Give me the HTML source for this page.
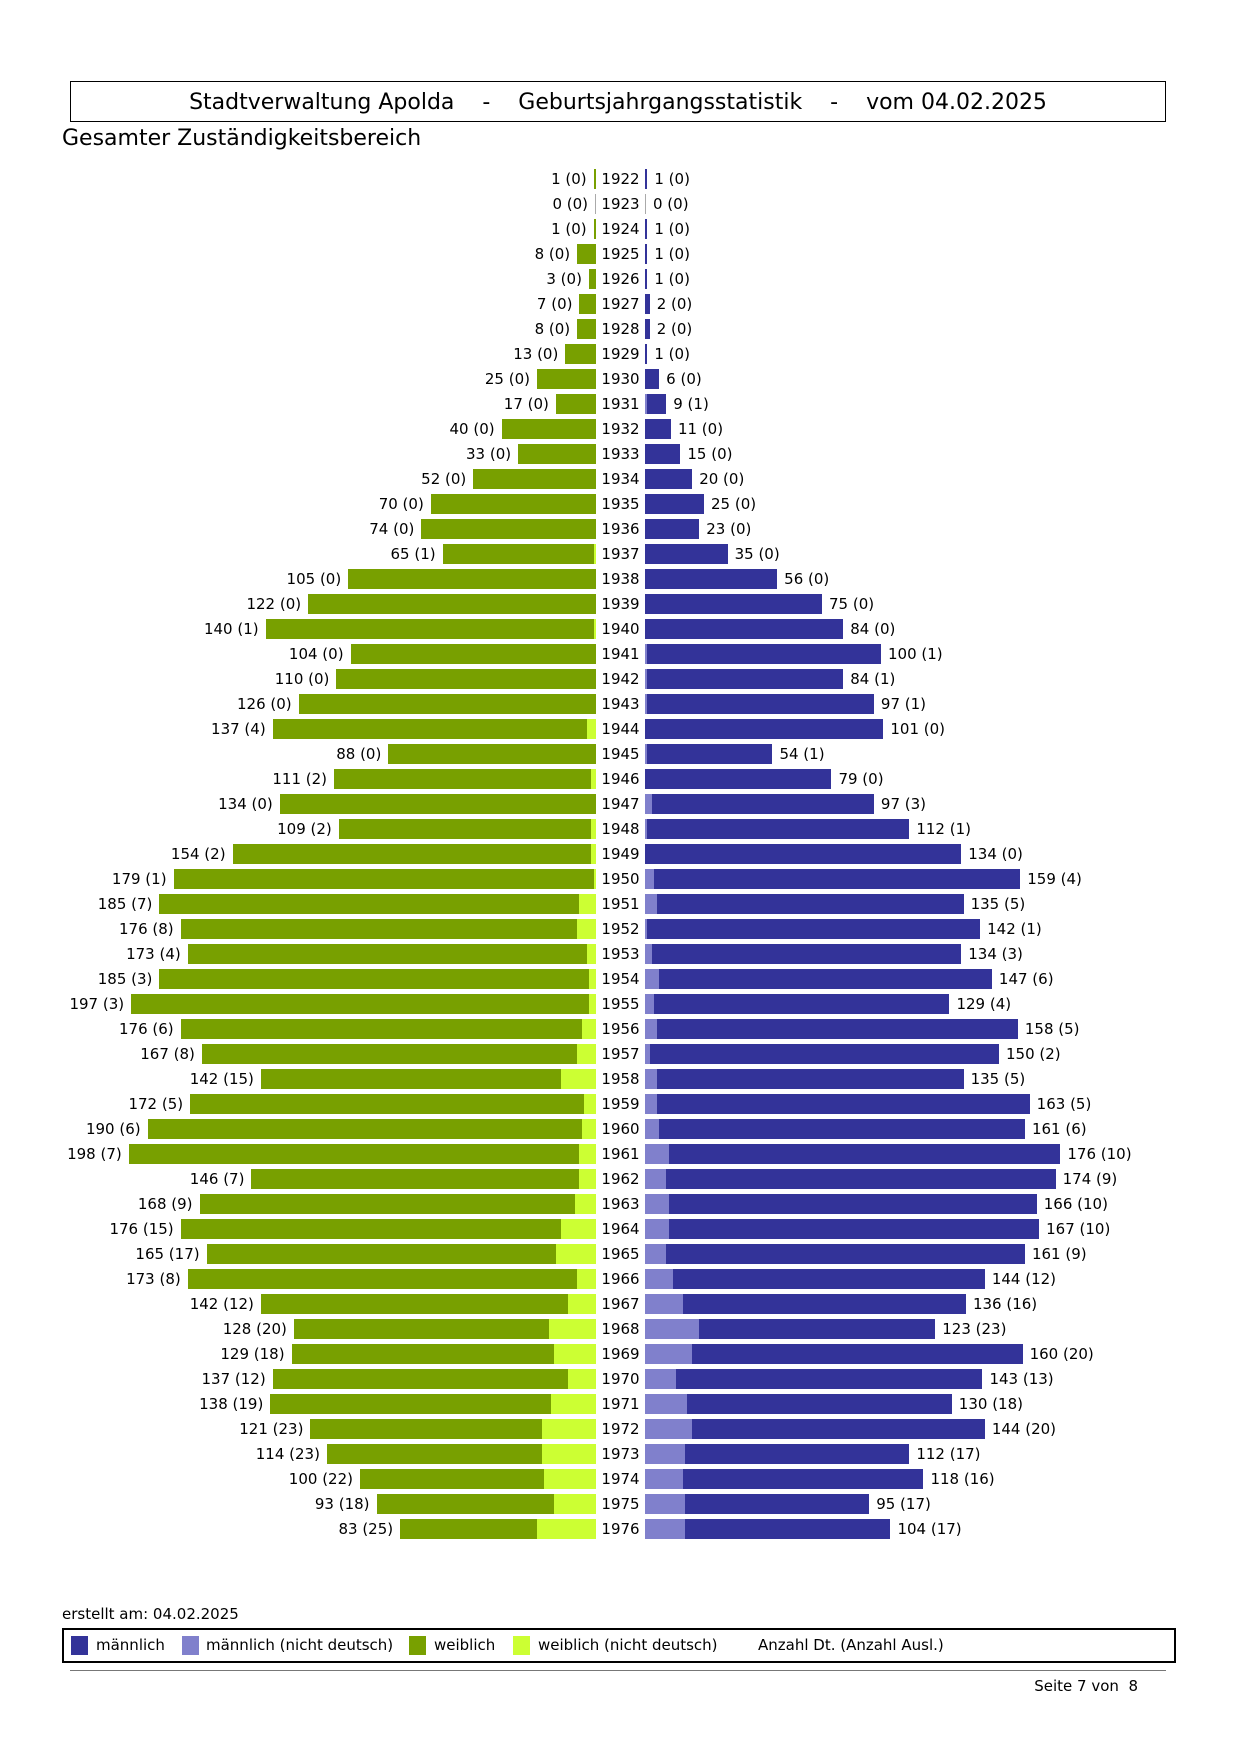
<!DOCTYPE html>
<html><head><meta charset="utf-8"><style>
body{margin:0;width:1239px;height:1754px;background:#fff;position:relative;font-family:"DejaVu Sans","Liberation Sans",sans-serif;color:#000;overflow:hidden}
.hdr{position:absolute;left:70px;top:81px;width:1094px;height:39px;border:1px solid #000;font-size:22px;line-height:42px;text-align:center;white-space:pre}
.sub{position:absolute;left:62px;top:124px;font-size:22px;line-height:30px}
#rows{position:absolute;left:0;top:166px;width:1239px}
.row{height:25px;display:flex;align-items:center;font-size:15px}
.l{width:596px;display:flex;justify-content:flex-end;align-items:center}
.l span{margin-right:7px}
.y{width:49px;text-align:center}
.r{display:flex;align-items:center}
.r span{margin-left:7px}
.fb{height:20px;background:#78a000;position:relative}
.fb i{position:absolute;right:0;top:0;bottom:0;background:#ccff33}
.mb{height:20px;background:#333399;position:relative}
.mb i{position:absolute;left:0;top:0;bottom:0;background:#8080cc}
.z{border-left:1px solid #aaa;height:20px}
.leg{position:absolute;left:62px;top:1628px;width:1110px;height:31px;border:2px solid #000;font-size:15px}
.leg div{position:absolute;top:6px;line-height:19px}
.sw{width:17px;height:19px}
</style></head><body>
<div class="hdr">Stadtverwaltung Apolda    -    Geburtsjahrgangsstatistik    -    vom 04.02.2025</div>
<div class="sub">Gesamter Zuständigkeitsbereich</div>
<div id="rows">
<div class="row"><div class="l"><span>1 (0)</span><div class="fb" style="width:calc(2.36px*1)"></div></div><div class="y">1922</div><div class="r"><div class="mb" style="width:calc(2.36px*1)"></div><span>1 (0)</span></div></div>
<div class="row"><div class="l"><span>0 (0)</span><div class="z"></div></div><div class="y">1923</div><div class="r"><div class="z"></div><span>0 (0)</span></div></div>
<div class="row"><div class="l"><span>1 (0)</span><div class="fb" style="width:calc(2.36px*1)"></div></div><div class="y">1924</div><div class="r"><div class="mb" style="width:calc(2.36px*1)"></div><span>1 (0)</span></div></div>
<div class="row"><div class="l"><span>8 (0)</span><div class="fb" style="width:calc(2.36px*8)"></div></div><div class="y">1925</div><div class="r"><div class="mb" style="width:calc(2.36px*1)"></div><span>1 (0)</span></div></div>
<div class="row"><div class="l"><span>3 (0)</span><div class="fb" style="width:calc(2.36px*3)"></div></div><div class="y">1926</div><div class="r"><div class="mb" style="width:calc(2.36px*1)"></div><span>1 (0)</span></div></div>
<div class="row"><div class="l"><span>7 (0)</span><div class="fb" style="width:calc(2.36px*7)"></div></div><div class="y">1927</div><div class="r"><div class="mb" style="width:calc(2.36px*2)"></div><span>2 (0)</span></div></div>
<div class="row"><div class="l"><span>8 (0)</span><div class="fb" style="width:calc(2.36px*8)"></div></div><div class="y">1928</div><div class="r"><div class="mb" style="width:calc(2.36px*2)"></div><span>2 (0)</span></div></div>
<div class="row"><div class="l"><span>13 (0)</span><div class="fb" style="width:calc(2.36px*13)"></div></div><div class="y">1929</div><div class="r"><div class="mb" style="width:calc(2.36px*1)"></div><span>1 (0)</span></div></div>
<div class="row"><div class="l"><span>25 (0)</span><div class="fb" style="width:calc(2.36px*25)"></div></div><div class="y">1930</div><div class="r"><div class="mb" style="width:calc(2.36px*6)"></div><span>6 (0)</span></div></div>
<div class="row"><div class="l"><span>17 (0)</span><div class="fb" style="width:calc(2.36px*17)"></div></div><div class="y">1931</div><div class="r"><div class="mb" style="width:calc(2.36px*9)"><i style="width:calc(2.36px*1)"></i></div><span>9 (1)</span></div></div>
<div class="row"><div class="l"><span>40 (0)</span><div class="fb" style="width:calc(2.36px*40)"></div></div><div class="y">1932</div><div class="r"><div class="mb" style="width:calc(2.36px*11)"></div><span>11 (0)</span></div></div>
<div class="row"><div class="l"><span>33 (0)</span><div class="fb" style="width:calc(2.36px*33)"></div></div><div class="y">1933</div><div class="r"><div class="mb" style="width:calc(2.36px*15)"></div><span>15 (0)</span></div></div>
<div class="row"><div class="l"><span>52 (0)</span><div class="fb" style="width:calc(2.36px*52)"></div></div><div class="y">1934</div><div class="r"><div class="mb" style="width:calc(2.36px*20)"></div><span>20 (0)</span></div></div>
<div class="row"><div class="l"><span>70 (0)</span><div class="fb" style="width:calc(2.36px*70)"></div></div><div class="y">1935</div><div class="r"><div class="mb" style="width:calc(2.36px*25)"></div><span>25 (0)</span></div></div>
<div class="row"><div class="l"><span>74 (0)</span><div class="fb" style="width:calc(2.36px*74)"></div></div><div class="y">1936</div><div class="r"><div class="mb" style="width:calc(2.36px*23)"></div><span>23 (0)</span></div></div>
<div class="row"><div class="l"><span>65 (1)</span><div class="fb" style="width:calc(2.36px*65)"><i style="width:calc(2.36px*1)"></i></div></div><div class="y">1937</div><div class="r"><div class="mb" style="width:calc(2.36px*35)"></div><span>35 (0)</span></div></div>
<div class="row"><div class="l"><span>105 (0)</span><div class="fb" style="width:calc(2.36px*105)"></div></div><div class="y">1938</div><div class="r"><div class="mb" style="width:calc(2.36px*56)"></div><span>56 (0)</span></div></div>
<div class="row"><div class="l"><span>122 (0)</span><div class="fb" style="width:calc(2.36px*122)"></div></div><div class="y">1939</div><div class="r"><div class="mb" style="width:calc(2.36px*75)"></div><span>75 (0)</span></div></div>
<div class="row"><div class="l"><span>140 (1)</span><div class="fb" style="width:calc(2.36px*140)"><i style="width:calc(2.36px*1)"></i></div></div><div class="y">1940</div><div class="r"><div class="mb" style="width:calc(2.36px*84)"></div><span>84 (0)</span></div></div>
<div class="row"><div class="l"><span>104 (0)</span><div class="fb" style="width:calc(2.36px*104)"></div></div><div class="y">1941</div><div class="r"><div class="mb" style="width:calc(2.36px*100)"><i style="width:calc(2.36px*1)"></i></div><span>100 (1)</span></div></div>
<div class="row"><div class="l"><span>110 (0)</span><div class="fb" style="width:calc(2.36px*110)"></div></div><div class="y">1942</div><div class="r"><div class="mb" style="width:calc(2.36px*84)"><i style="width:calc(2.36px*1)"></i></div><span>84 (1)</span></div></div>
<div class="row"><div class="l"><span>126 (0)</span><div class="fb" style="width:calc(2.36px*126)"></div></div><div class="y">1943</div><div class="r"><div class="mb" style="width:calc(2.36px*97)"><i style="width:calc(2.36px*1)"></i></div><span>97 (1)</span></div></div>
<div class="row"><div class="l"><span>137 (4)</span><div class="fb" style="width:calc(2.36px*137)"><i style="width:calc(2.36px*4)"></i></div></div><div class="y">1944</div><div class="r"><div class="mb" style="width:calc(2.36px*101)"></div><span>101 (0)</span></div></div>
<div class="row"><div class="l"><span>88 (0)</span><div class="fb" style="width:calc(2.36px*88)"></div></div><div class="y">1945</div><div class="r"><div class="mb" style="width:calc(2.36px*54)"><i style="width:calc(2.36px*1)"></i></div><span>54 (1)</span></div></div>
<div class="row"><div class="l"><span>111 (2)</span><div class="fb" style="width:calc(2.36px*111)"><i style="width:calc(2.36px*2)"></i></div></div><div class="y">1946</div><div class="r"><div class="mb" style="width:calc(2.36px*79)"></div><span>79 (0)</span></div></div>
<div class="row"><div class="l"><span>134 (0)</span><div class="fb" style="width:calc(2.36px*134)"></div></div><div class="y">1947</div><div class="r"><div class="mb" style="width:calc(2.36px*97)"><i style="width:calc(2.36px*3)"></i></div><span>97 (3)</span></div></div>
<div class="row"><div class="l"><span>109 (2)</span><div class="fb" style="width:calc(2.36px*109)"><i style="width:calc(2.36px*2)"></i></div></div><div class="y">1948</div><div class="r"><div class="mb" style="width:calc(2.36px*112)"><i style="width:calc(2.36px*1)"></i></div><span>112 (1)</span></div></div>
<div class="row"><div class="l"><span>154 (2)</span><div class="fb" style="width:calc(2.36px*154)"><i style="width:calc(2.36px*2)"></i></div></div><div class="y">1949</div><div class="r"><div class="mb" style="width:calc(2.36px*134)"></div><span>134 (0)</span></div></div>
<div class="row"><div class="l"><span>179 (1)</span><div class="fb" style="width:calc(2.36px*179)"><i style="width:calc(2.36px*1)"></i></div></div><div class="y">1950</div><div class="r"><div class="mb" style="width:calc(2.36px*159)"><i style="width:calc(2.36px*4)"></i></div><span>159 (4)</span></div></div>
<div class="row"><div class="l"><span>185 (7)</span><div class="fb" style="width:calc(2.36px*185)"><i style="width:calc(2.36px*7)"></i></div></div><div class="y">1951</div><div class="r"><div class="mb" style="width:calc(2.36px*135)"><i style="width:calc(2.36px*5)"></i></div><span>135 (5)</span></div></div>
<div class="row"><div class="l"><span>176 (8)</span><div class="fb" style="width:calc(2.36px*176)"><i style="width:calc(2.36px*8)"></i></div></div><div class="y">1952</div><div class="r"><div class="mb" style="width:calc(2.36px*142)"><i style="width:calc(2.36px*1)"></i></div><span>142 (1)</span></div></div>
<div class="row"><div class="l"><span>173 (4)</span><div class="fb" style="width:calc(2.36px*173)"><i style="width:calc(2.36px*4)"></i></div></div><div class="y">1953</div><div class="r"><div class="mb" style="width:calc(2.36px*134)"><i style="width:calc(2.36px*3)"></i></div><span>134 (3)</span></div></div>
<div class="row"><div class="l"><span>185 (3)</span><div class="fb" style="width:calc(2.36px*185)"><i style="width:calc(2.36px*3)"></i></div></div><div class="y">1954</div><div class="r"><div class="mb" style="width:calc(2.36px*147)"><i style="width:calc(2.36px*6)"></i></div><span>147 (6)</span></div></div>
<div class="row"><div class="l"><span>197 (3)</span><div class="fb" style="width:calc(2.36px*197)"><i style="width:calc(2.36px*3)"></i></div></div><div class="y">1955</div><div class="r"><div class="mb" style="width:calc(2.36px*129)"><i style="width:calc(2.36px*4)"></i></div><span>129 (4)</span></div></div>
<div class="row"><div class="l"><span>176 (6)</span><div class="fb" style="width:calc(2.36px*176)"><i style="width:calc(2.36px*6)"></i></div></div><div class="y">1956</div><div class="r"><div class="mb" style="width:calc(2.36px*158)"><i style="width:calc(2.36px*5)"></i></div><span>158 (5)</span></div></div>
<div class="row"><div class="l"><span>167 (8)</span><div class="fb" style="width:calc(2.36px*167)"><i style="width:calc(2.36px*8)"></i></div></div><div class="y">1957</div><div class="r"><div class="mb" style="width:calc(2.36px*150)"><i style="width:calc(2.36px*2)"></i></div><span>150 (2)</span></div></div>
<div class="row"><div class="l"><span>142 (15)</span><div class="fb" style="width:calc(2.36px*142)"><i style="width:calc(2.36px*15)"></i></div></div><div class="y">1958</div><div class="r"><div class="mb" style="width:calc(2.36px*135)"><i style="width:calc(2.36px*5)"></i></div><span>135 (5)</span></div></div>
<div class="row"><div class="l"><span>172 (5)</span><div class="fb" style="width:calc(2.36px*172)"><i style="width:calc(2.36px*5)"></i></div></div><div class="y">1959</div><div class="r"><div class="mb" style="width:calc(2.36px*163)"><i style="width:calc(2.36px*5)"></i></div><span>163 (5)</span></div></div>
<div class="row"><div class="l"><span>190 (6)</span><div class="fb" style="width:calc(2.36px*190)"><i style="width:calc(2.36px*6)"></i></div></div><div class="y">1960</div><div class="r"><div class="mb" style="width:calc(2.36px*161)"><i style="width:calc(2.36px*6)"></i></div><span>161 (6)</span></div></div>
<div class="row"><div class="l"><span>198 (7)</span><div class="fb" style="width:calc(2.36px*198)"><i style="width:calc(2.36px*7)"></i></div></div><div class="y">1961</div><div class="r"><div class="mb" style="width:calc(2.36px*176)"><i style="width:calc(2.36px*10)"></i></div><span>176 (10)</span></div></div>
<div class="row"><div class="l"><span>146 (7)</span><div class="fb" style="width:calc(2.36px*146)"><i style="width:calc(2.36px*7)"></i></div></div><div class="y">1962</div><div class="r"><div class="mb" style="width:calc(2.36px*174)"><i style="width:calc(2.36px*9)"></i></div><span>174 (9)</span></div></div>
<div class="row"><div class="l"><span>168 (9)</span><div class="fb" style="width:calc(2.36px*168)"><i style="width:calc(2.36px*9)"></i></div></div><div class="y">1963</div><div class="r"><div class="mb" style="width:calc(2.36px*166)"><i style="width:calc(2.36px*10)"></i></div><span>166 (10)</span></div></div>
<div class="row"><div class="l"><span>176 (15)</span><div class="fb" style="width:calc(2.36px*176)"><i style="width:calc(2.36px*15)"></i></div></div><div class="y">1964</div><div class="r"><div class="mb" style="width:calc(2.36px*167)"><i style="width:calc(2.36px*10)"></i></div><span>167 (10)</span></div></div>
<div class="row"><div class="l"><span>165 (17)</span><div class="fb" style="width:calc(2.36px*165)"><i style="width:calc(2.36px*17)"></i></div></div><div class="y">1965</div><div class="r"><div class="mb" style="width:calc(2.36px*161)"><i style="width:calc(2.36px*9)"></i></div><span>161 (9)</span></div></div>
<div class="row"><div class="l"><span>173 (8)</span><div class="fb" style="width:calc(2.36px*173)"><i style="width:calc(2.36px*8)"></i></div></div><div class="y">1966</div><div class="r"><div class="mb" style="width:calc(2.36px*144)"><i style="width:calc(2.36px*12)"></i></div><span>144 (12)</span></div></div>
<div class="row"><div class="l"><span>142 (12)</span><div class="fb" style="width:calc(2.36px*142)"><i style="width:calc(2.36px*12)"></i></div></div><div class="y">1967</div><div class="r"><div class="mb" style="width:calc(2.36px*136)"><i style="width:calc(2.36px*16)"></i></div><span>136 (16)</span></div></div>
<div class="row"><div class="l"><span>128 (20)</span><div class="fb" style="width:calc(2.36px*128)"><i style="width:calc(2.36px*20)"></i></div></div><div class="y">1968</div><div class="r"><div class="mb" style="width:calc(2.36px*123)"><i style="width:calc(2.36px*23)"></i></div><span>123 (23)</span></div></div>
<div class="row"><div class="l"><span>129 (18)</span><div class="fb" style="width:calc(2.36px*129)"><i style="width:calc(2.36px*18)"></i></div></div><div class="y">1969</div><div class="r"><div class="mb" style="width:calc(2.36px*160)"><i style="width:calc(2.36px*20)"></i></div><span>160 (20)</span></div></div>
<div class="row"><div class="l"><span>137 (12)</span><div class="fb" style="width:calc(2.36px*137)"><i style="width:calc(2.36px*12)"></i></div></div><div class="y">1970</div><div class="r"><div class="mb" style="width:calc(2.36px*143)"><i style="width:calc(2.36px*13)"></i></div><span>143 (13)</span></div></div>
<div class="row"><div class="l"><span>138 (19)</span><div class="fb" style="width:calc(2.36px*138)"><i style="width:calc(2.36px*19)"></i></div></div><div class="y">1971</div><div class="r"><div class="mb" style="width:calc(2.36px*130)"><i style="width:calc(2.36px*18)"></i></div><span>130 (18)</span></div></div>
<div class="row"><div class="l"><span>121 (23)</span><div class="fb" style="width:calc(2.36px*121)"><i style="width:calc(2.36px*23)"></i></div></div><div class="y">1972</div><div class="r"><div class="mb" style="width:calc(2.36px*144)"><i style="width:calc(2.36px*20)"></i></div><span>144 (20)</span></div></div>
<div class="row"><div class="l"><span>114 (23)</span><div class="fb" style="width:calc(2.36px*114)"><i style="width:calc(2.36px*23)"></i></div></div><div class="y">1973</div><div class="r"><div class="mb" style="width:calc(2.36px*112)"><i style="width:calc(2.36px*17)"></i></div><span>112 (17)</span></div></div>
<div class="row"><div class="l"><span>100 (22)</span><div class="fb" style="width:calc(2.36px*100)"><i style="width:calc(2.36px*22)"></i></div></div><div class="y">1974</div><div class="r"><div class="mb" style="width:calc(2.36px*118)"><i style="width:calc(2.36px*16)"></i></div><span>118 (16)</span></div></div>
<div class="row"><div class="l"><span>93 (18)</span><div class="fb" style="width:calc(2.36px*93)"><i style="width:calc(2.36px*18)"></i></div></div><div class="y">1975</div><div class="r"><div class="mb" style="width:calc(2.36px*95)"><i style="width:calc(2.36px*17)"></i></div><span>95 (17)</span></div></div>
<div class="row"><div class="l"><span>83 (25)</span><div class="fb" style="width:calc(2.36px*83)"><i style="width:calc(2.36px*25)"></i></div></div><div class="y">1976</div><div class="r"><div class="mb" style="width:calc(2.36px*104)"><i style="width:calc(2.36px*17)"></i></div><span>104 (17)</span></div></div>
</div>
<div style="position:absolute;left:62px;top:1605px;font-size:15px;line-height:18px">erstellt am: 04.02.2025</div>
<div class="leg">
<div class="sw" style="left:7px;background:#333399"></div><div style="left:32px">männlich</div>
<div class="sw" style="left:118px;background:#8080cc"></div><div style="left:142px">männlich (nicht deutsch)</div>
<div class="sw" style="left:345px;background:#78a000"></div><div style="left:370px">weiblich</div>
<div class="sw" style="left:449px;background:#ccff33"></div><div style="left:474px">weiblich (nicht deutsch)</div>
<div style="left:694px">Anzahl Dt. (Anzahl Ausl.)</div>
</div>
<div style="position:absolute;left:70px;top:1670px;width:1096px;height:1px;background:#777"></div>
<div style="position:absolute;right:101px;top:1677px;font-size:15px;line-height:18px;white-space:pre">Seite 7 von  8</div>
</body></html>
